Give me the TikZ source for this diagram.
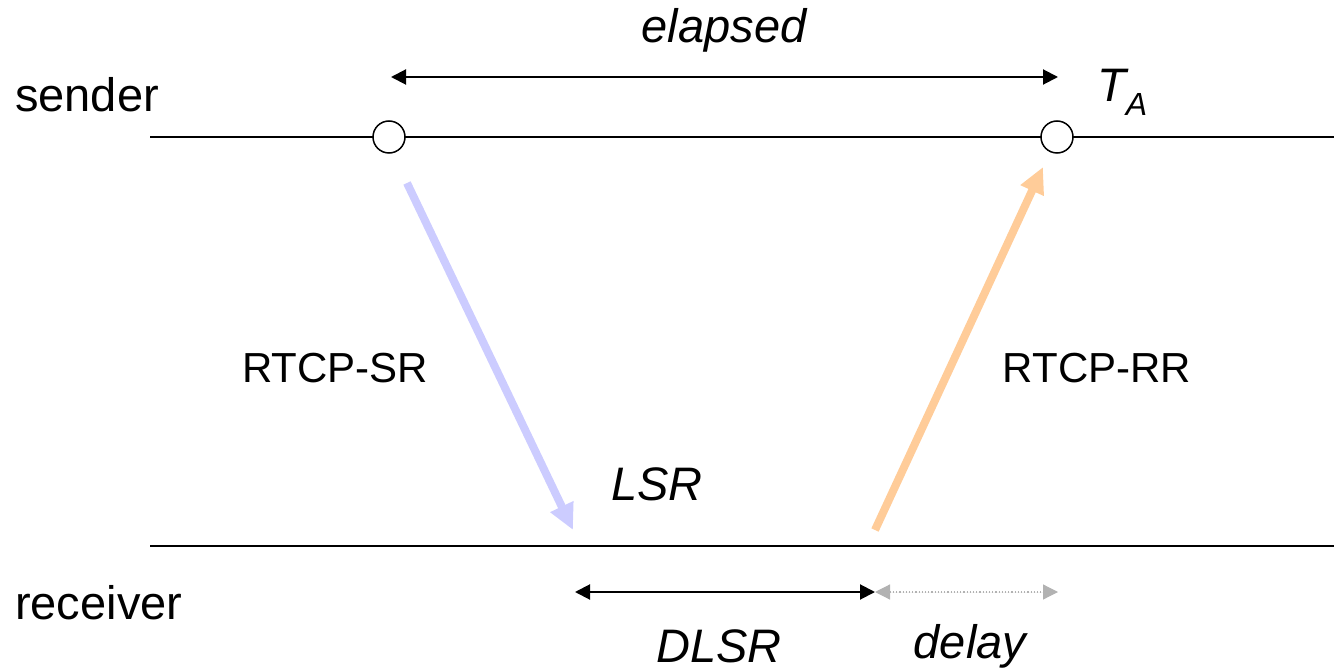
\documentclass[tikz,border=0pt]{standalone}
\usepackage{fontspec}
\setmainfont{Liberation Sans}
\usetikzlibrary{arrows.meta}
\begin{document}
\begin{tikzpicture}[x=1pt,y=-1pt,
  lbl/.style={inner sep=0pt,font=\fontsize{47}{47}\selectfont},
  msg/.style={inner sep=0pt,font=\fontsize{42}{42}\selectfont},
  tl/.style={line width=2pt},
  dim/.style={line width=2pt,{Triangle[length=15pt,width=15pt]}-{Triangle[length=15pt,width=15pt]}},
  graydim/.style={line width=1.2pt,dotted,draw={rgb,255:red,178;green,178;blue,178},
     {Triangle[length=15pt,width=15pt]}-{Triangle[length=15pt,width=15pt]}},
  fat/.style={line width=8pt,-{Triangle[length=26pt,width=24pt]}},
  dot/.style={circle,draw,line width=1.5pt,fill=white,minimum size=32pt,inner sep=0pt}]
\useasboundingbox (0,0) rectangle (1334,671);
\definecolor{lav}{RGB}{204,204,255}
\definecolor{peach}{RGB}{255,204,153}
% timelines
\coordinate (sL) at (150,137);
\coordinate (sR) at (1334,137);
\coordinate (rL) at (150,546);
\coordinate (rR) at (1334,546);
\draw[tl] (sL) -- (sR);
\draw[tl] (rL) -- (rR);
\node[dot] (c1) at (389,137) {};
\node[dot] (c2) at (1057,137) {};
% labels
\node[lbl,anchor=west] (snd) at (15,95) {sender};
\node[lbl,anchor=west] (rcv) at (15,603) {receiver};
\node[lbl] (el) at (724,30) {\itshape elapsed};
\node[lbl,anchor=west] (ta) at (1097,92) {\itshape T\raisebox{-0.3em}{\fontsize{32}{32}\selectfont A}};
\node[msg] (sr) at (335,368) {RTCP-SR};
\node[msg] (rr) at (1097,368) {RTCP-RR};
\node[lbl] (lsr) at (657,484) {\itshape LSR};
\node[lbl] (dlsr) at (719,646) {\itshape DLSR};
\node[lbl] (dly) at (970,646) {\itshape delay};
% elapsed
\coordinate (e1) at (391,77);
\coordinate (e2) at (1058,77);
\draw[dim] (e1) -- (e2);
% messages
\coordinate (b1) at (407,183);
\coordinate (b2) at (573,530);
\draw[fat,draw=lav,fill=lav] (b1) -- (b2);
\coordinate (o1) at (875,530);
\coordinate (o2) at (1043,167);
\draw[fat,draw=peach,fill=peach] (o1) -- (o2);
% DLSR and delay
\coordinate (d1) at (575,592);
\coordinate (d2) at (875,592);
\coordinate (d3) at (1058,592);
\draw[graydim,fill={rgb,255:red,178;green,178;blue,178}] (d2) -- (d3);
\draw[dim] (d1) -- (d2);
\end{tikzpicture}
\end{document}
